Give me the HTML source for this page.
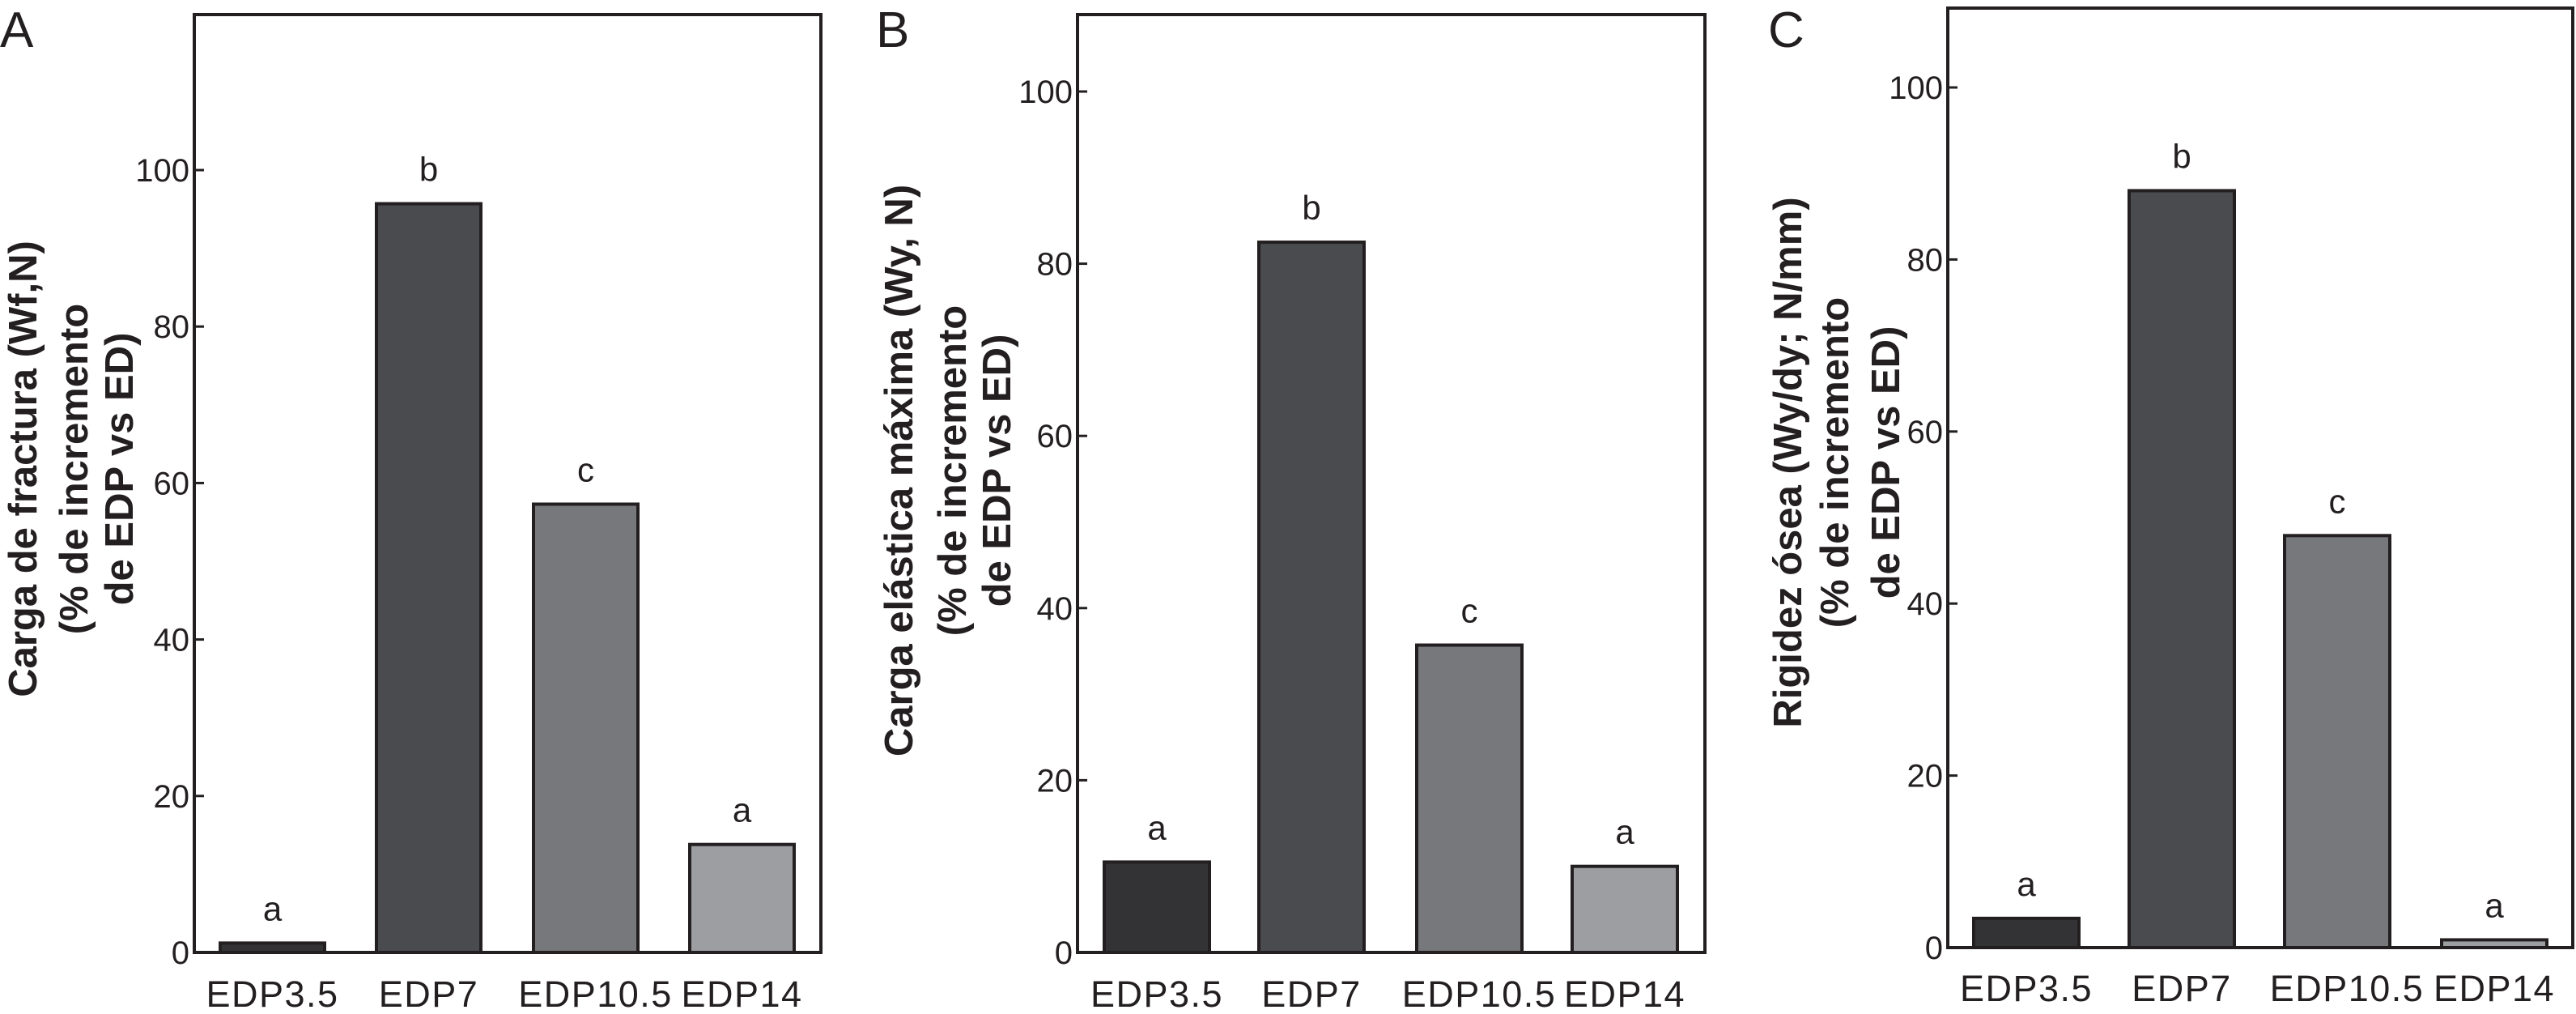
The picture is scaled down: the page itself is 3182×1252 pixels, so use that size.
<!DOCTYPE html>
<html><head><meta charset="utf-8"><style>
html,body{margin:0;padding:0;background:#fff;}
svg{display:block;font-family:"Liberation Sans",Arial,sans-serif;}
</style></head><body>
<svg id="chart" width="3182" height="1252" viewBox="0 0 3182 1252" xmlns="http://www.w3.org/2000/svg"></svg>
<script>
const categories = ["EDP3.5","EDP7","EDP10.5","EDP14"];
const valuesA = [1.2, 95.7, 57.3, 13.8];
const valuesB = [10.5, 82.5, 35.7, 10.0];
const valuesC = [3.4, 88.0, 47.9, 0.9];
const lettersA = ["a","b","c","a"];
const lettersB = ["a","b","c","a"];
const lettersC = ["a","b","c","a"];
const ticks = [0,20,40,60,80,100];
const titleA = ["Carga de fractura (Wf,N)","(% de incremento","de EDP vs ED)"];
const titleB = ["Carga elástica máxima (Wy, N)","(% de incremento","de EDP vs ED)"];
const titleC = ["Rigidez ósea (Wy/dy; N/mm)","(% de incremento","de EDP vs ED)"];
const colors = ["#333336","#4a4b4e","#77787b","#9d9ea1"];

const NS = "http://www.w3.org/2000/svg";
const svg = document.getElementById("chart");
function mk(tag, attrs, parent){
  const e = document.createElementNS(NS, tag);
  for (const k in attrs) e.setAttribute(k, attrs[k]);
  (parent||svg).appendChild(e);
  return e;
}
function panel(cfg, values, letters, title){
  const g = mk("g", {});
  
  
  const y = v => cfg.y0 - (cfg.y0 - cfg.y100) * v / 100;
  const pl = mk("text", {x: cfg.letterX, y: 58, "font-size": 62, fill: "#231f20"}, g);
  pl.textContent = cfg.id;
  
  
  values.forEach((v, i) => {
    const x0 = cfg.barX[i];
    const top = y(v);
    const r = mk("rect", {x: x0, y: top, width: cfg.barW, height: cfg.y0 - top, fill: colors[i], stroke: "#231f20", "stroke-width": 4}, g);
    
    
    const lt = mk("text", {x: x0 + cfg.barW/2, y: top - 28, "font-size": 42, "text-anchor": "middle", fill: "#231f20"}, g);
    lt.textContent = letters[i];
    
    
    const xl = mk("text", {x: x0 + cfg.barW/2 + (i === 2 ? 12 : 0), y: cfg.xLabelY, "font-size": 45, "letter-spacing": 1.5, "text-anchor": "middle", fill: "#231f20"}, g);
    xl.textContent = categories[i];
    
    
  });
  const fr = mk("rect", {x: cfg.left, y: cfg.top, width: cfg.right - cfg.left, height: cfg.y0 - cfg.top, fill: "none", stroke: "#231f20", "stroke-width": 4}, g);
  
  
  ticks.forEach(t => {
    const ty = y(t);
    const tl = mk("line", {x1: cfg.left, x2: cfg.left + 12, y1: ty, y2: ty, stroke: "#231f20", "stroke-width": 3}, g);
    
    
    const tx = mk("text", {x: cfg.left - 6, y: ty + 14, "font-size": 40, "text-anchor": "end", fill: "#231f20"}, g);
    tx.textContent = t;
    
    
  });
  title.forEach((line, j) => {
    const cx = cfg.titleX[j];
    const tt = mk("text", {x: 0, y: 0, "font-size": 49, "font-weight": "bold", "text-anchor": "middle", fill: "#231f20",
      transform: "translate(" + (cx + 17) + "," + cfg.titleY + ") rotate(-90)"}, g);
    tt.textContent = line;
    
    
  });
}
panel({id:"A", letterX:0, left:240, right:1014, top:18, y0:1176, y100:210, barX:[272,465,659,852], barW:129,
  xLabelY:1243, titleX:[28,91,147], titleY:579}, valuesA, lettersA, titleA);
panel({id:"B", letterX:1082, left:1331, right:2106, top:18, y0:1176, y100:113, barX:[1364,1555,1750,1942], barW:130,
  xLabelY:1243, titleX:[1110,1176,1231], titleY:581}, valuesB, lettersB, titleB);
panel({id:"C", letterX:2184, left:2406, right:3178, top:10, y0:1170, y100:108, barX:[2438,2630,2822,3016], barW:130,
  xLabelY:1236, titleX:[2208,2266,2329], titleY:571}, valuesC, lettersC, titleC);
</script>
</body></html>
